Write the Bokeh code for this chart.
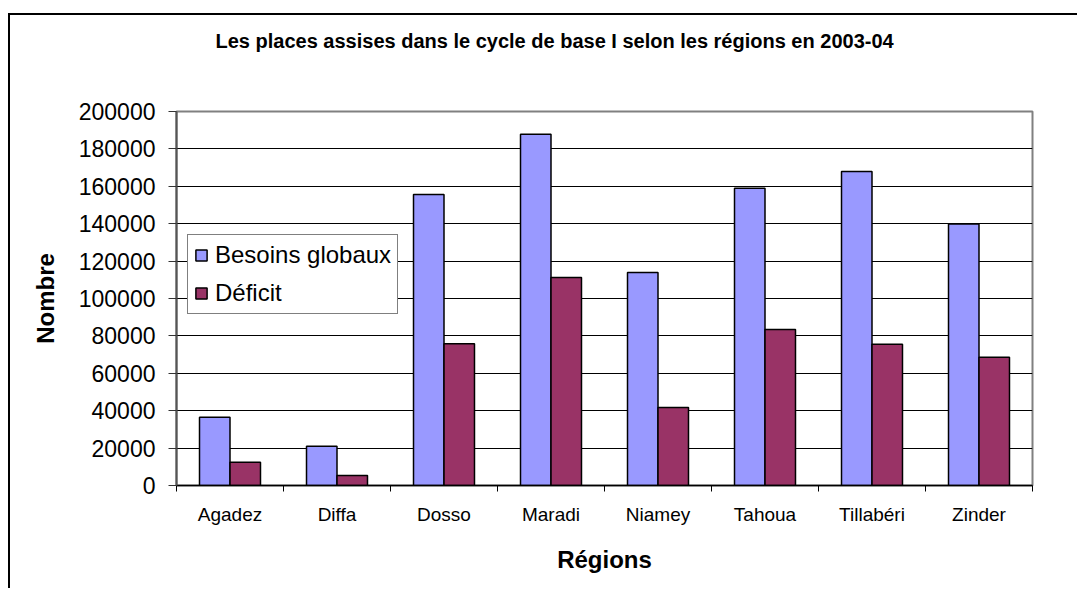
from bokeh.plotting import figure
from bokeh.models import FixedTicker, Legend, LegendItem, ColumnDataSource, Title
from bokeh.embed import file_html
from bokeh.resources import INLINE

regions = ["Agadez", "Diffa", "Dosso", "Maradi", "Niamey", "Tahoua", "Tillabéri", "Zinder"]
besoins = [36500, 21000, 155600, 187900, 113900, 159000, 167900, 139900]
deficit = [12400, 5300, 75800, 111200, 41700, 83400, 75600, 68600]
y_ticks = [0, 20000, 40000, 60000, 80000, 100000, 120000, 140000, 160000, 180000, 200000]
title_text = "Les places assises dans le cycle de base I selon les régions en 2003-04"

FONT = "Liberation Sans"
idx = list(range(len(regions)))
centers = [i + 0.5 for i in idx]

src = ColumnDataSource(dict(
    xb=[c - 0.1425 for c in centers],
    xd=[c + 0.1425 for c in centers],
    besoins=besoins,
    deficit=deficit,
))

p = figure(width=1069, height=575, output_backend="svg", toolbar_location=None, title=None,
           x_range=(0, len(regions)), y_range=(0, 200000),
           min_border_left=166, min_border_right=47, min_border_top=96, min_border_bottom=105,
           styles={"margin-top": "13px", "margin-left": "8px",
                   "border-left": "2px solid #000", "border-top": "2px solid #000"})
p.background_fill_color = "white"
p.border_fill_color = "white"
p.outline_line_color = "#808080"
p.outline_line_width = 2

# spacer between title and plot area (nearest the frame), then the real title
p.add_layout(Title(text=" ", text_font=FONT, text_font_size="10px", standoff=42), "above")
p.add_layout(Title(text=title_text, align="left", offset=39, standoff=10,
                   text_font=FONT, text_font_size="20px", text_font_style="bold",
                   text_color="black"), "above")

rb = p.vbar(x="xb", top="besoins", width=0.285, source=src,
            fill_color="#9999FF", line_color="black", line_width=1.5)
rd = p.vbar(x="xd", top="deficit", width=0.285, source=src,
            fill_color="#993366", line_color="black", line_width=1.5)

# grid
p.xgrid.visible = False
p.ygrid.ticker = FixedTicker(ticks=y_ticks[1:-1])
p.ygrid.grid_line_color = "black"
p.ygrid.grid_line_width = 1

# x axis
xa = p.xaxis[0]
xa.ticker = FixedTicker(ticks=centers, minor_ticks=[float(i) for i in range(len(regions) + 1)])
xa.major_label_overrides = {c: r for c, r in zip(centers, regions)}
xa.major_tick_out = 0
xa.major_tick_in = 0
xa.minor_tick_out = 6
xa.minor_tick_in = 0
xa.minor_tick_line_color = "black"
xa.axis_line_color = "black"
xa.axis_line_width = 1.5
xa.major_label_text_font = FONT
xa.major_label_text_font_size = "19px"
xa.major_label_text_color = "black"
xa.major_label_standoff = 12
xa.axis_label = "Régions"
xa.axis_label_text_font = FONT
xa.axis_label_text_font_size = "24px"
xa.axis_label_text_font_style = "bold"
xa.axis_label_text_color = "black"
xa.axis_label_standoff = 18

# y axis
ya = p.yaxis[0]
ya.ticker = FixedTicker(ticks=y_ticks)
ya.formatter.use_scientific = False
ya.major_tick_out = 8
ya.major_tick_in = 0
ya.minor_tick_out = 0
ya.minor_tick_in = 0
ya.major_tick_line_color = "#333333"
ya.axis_line_color = "#555555"
ya.axis_line_width = 2
ya.major_label_text_font = FONT
ya.major_label_text_font_size = "23px"
ya.major_label_text_color = "black"
ya.major_label_standoff = 13
ya.axis_label = "Nombre"
ya.axis_label_text_font = FONT
ya.axis_label_text_font_size = "24px"
ya.axis_label_text_font_style = "bold"
ya.axis_label_text_color = "black"
ya.axis_label_standoff = 17

legend = Legend(items=[LegendItem(label="Besoins globaux", renderers=[rb]),
                       LegendItem(label="Déficit", renderers=[rd])],
                location=(11, 171))
legend.label_text_font = FONT
legend.label_text_font_size = "24px"
legend.label_text_color = "black"
legend.glyph_height = 14
legend.glyph_width = 14
legend.label_height = 26
legend.label_standoff = 7
legend.spacing = 10
legend.padding = 6
legend.margin = 0
legend.border_line_color = "black"
legend.border_line_width = 1
legend.background_fill_color = "white"
legend.background_fill_alpha = 1
p.add_layout(legend, "center")

open("out.html", "w").write(file_html(p, INLINE))
